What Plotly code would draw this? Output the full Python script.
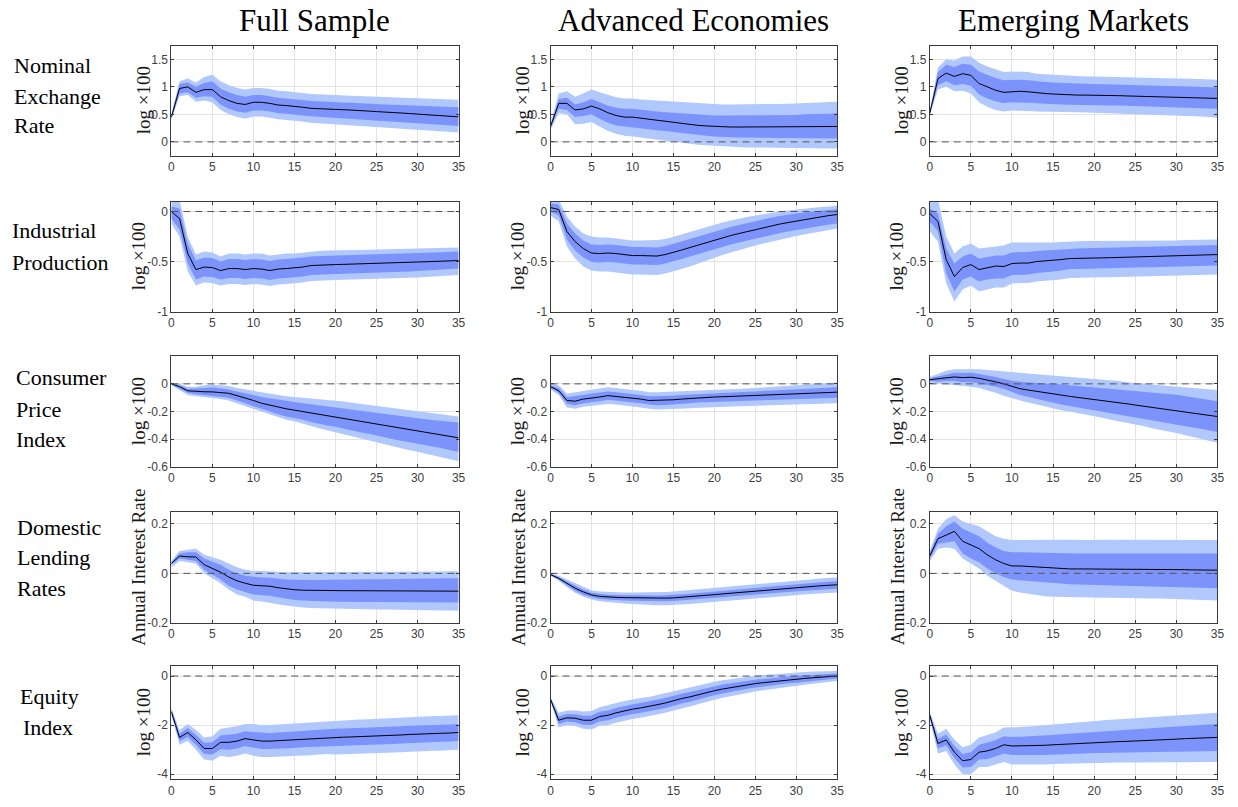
import plotly.graph_objects as go

W, H = 1238, 807
horizon = list(range(36))
x_ticks = [0, 5, 10, 15, 20, 25, 30, 35]

col_titles = ["Full Sample", "Advanced Economies", "Emerging Markets"]
row_label_lines = [["Nominal", "Exchange", "Rate"],
                   ["Industrial", "Production"],
                   ["Consumer", "Price", "Index"],
                   ["Domestic", "Lending", "Rates"],
                   ["Equity", "Index"]]
y_titles = ["log \u00d7100", "log \u00d7100", "log \u00d7100", "Annual Interest Rate", "log \u00d7100"]
y_ranges = [[-0.25, 1.75], [-1.0, 0.1], [-0.6, 0.2], [-0.2, 0.25], [-4.2, 0.4]]
y_tickvals = [[0, 0.5, 1, 1.5], [-1, -0.5, 0], [-0.6, -0.4, -0.2, 0], [-0.2, 0, 0.2], [-4, -2, 0]]
y_ticktext = [["0", "0.5", "1", "1.5"], ["-1", "-0.5", "0"], ["-0.6", "-0.4", "-0.2", "0"],
              ["-0.2", "0", "0.2"], ["-4", "-2", "0"]]

# ---------------- Nominal exchange rate ----------------
er_fs_med = [0.45,0.97,1.00,0.90,0.95,0.95,0.82,0.75,0.70,0.68,0.72,0.72,0.70,0.67,0.66,0.65,0.63,0.61,0.60,0.595,0.59,0.585,0.58,0.57,0.56,0.55,0.545,0.535,0.525,0.515,0.505,0.495,0.485,0.475,0.465,0.455]
er_fs_hi90 = [0.50,1.10,1.15,1.08,1.18,1.22,1.10,1.03,0.98,0.95,0.98,0.98,0.96,0.93,0.92,0.91,0.89,0.87,0.86,0.855,0.85,0.845,0.84,0.835,0.83,0.825,0.82,0.815,0.81,0.80,0.795,0.79,0.785,0.78,0.775,0.765]
er_fs_hi68 = [0.48,1.05,1.08,1.00,1.07,1.10,0.97,0.90,0.85,0.82,0.85,0.85,0.83,0.80,0.79,0.78,0.76,0.745,0.735,0.73,0.72,0.715,0.71,0.70,0.695,0.69,0.68,0.675,0.67,0.66,0.655,0.65,0.645,0.64,0.635,0.63]
er_fs_lo68 = [0.42,0.88,0.90,0.80,0.83,0.82,0.68,0.60,0.55,0.53,0.57,0.57,0.55,0.52,0.51,0.50,0.48,0.465,0.455,0.45,0.44,0.43,0.42,0.41,0.40,0.39,0.38,0.37,0.36,0.35,0.34,0.33,0.32,0.31,0.30,0.29]
er_fs_lo90 = [0.40,0.83,0.85,0.73,0.75,0.72,0.58,0.50,0.45,0.42,0.46,0.46,0.44,0.41,0.40,0.39,0.37,0.35,0.34,0.335,0.33,0.32,0.31,0.30,0.29,0.28,0.27,0.26,0.25,0.24,0.23,0.22,0.21,0.20,0.19,0.17]

er_ae_med = [0.28,0.70,0.70,0.58,0.60,0.65,0.60,0.53,0.48,0.45,0.45,0.43,0.41,0.39,0.37,0.36,0.34,0.32,0.30,0.29,0.28,0.275,0.27,0.27,0.27,0.27,0.27,0.27,0.27,0.275,0.275,0.275,0.28,0.28,0.28,0.28]
er_ae_hi90 = [0.33,0.88,0.92,0.82,0.88,0.95,0.90,0.85,0.81,0.79,0.79,0.77,0.76,0.75,0.74,0.73,0.72,0.71,0.70,0.69,0.68,0.68,0.68,0.68,0.68,0.68,0.685,0.69,0.69,0.695,0.70,0.705,0.71,0.715,0.72,0.73]
er_ae_hi68 = [0.30,0.78,0.80,0.68,0.72,0.78,0.72,0.66,0.62,0.60,0.60,0.58,0.56,0.55,0.54,0.53,0.52,0.50,0.49,0.485,0.48,0.48,0.48,0.48,0.48,0.48,0.485,0.485,0.49,0.49,0.49,0.50,0.50,0.51,0.51,0.52]
er_ae_lo68 = [0.25,0.60,0.58,0.45,0.47,0.50,0.42,0.35,0.30,0.28,0.27,0.25,0.23,0.21,0.20,0.18,0.16,0.14,0.12,0.11,0.10,0.09,0.085,0.08,0.08,0.075,0.075,0.07,0.07,0.07,0.07,0.07,0.065,0.065,0.06,0.06]
er_ae_lo90 = [0.22,0.52,0.50,0.32,0.33,0.36,0.28,0.20,0.15,0.11,0.10,0.08,0.06,0.04,0.02,0.01,-0.01,-0.03,-0.05,-0.06,-0.07,-0.08,-0.09,-0.095,-0.10,-0.10,-0.105,-0.11,-0.11,-0.11,-0.11,-0.115,-0.115,-0.12,-0.12,-0.12]

er_em_med = [0.52,1.15,1.25,1.19,1.24,1.21,1.06,1.00,0.94,0.90,0.91,0.92,0.91,0.89,0.88,0.87,0.86,0.855,0.85,0.85,0.85,0.845,0.84,0.84,0.835,0.83,0.83,0.825,0.82,0.815,0.81,0.81,0.805,0.80,0.795,0.79]
er_em_hi90 = [0.56,1.35,1.50,1.48,1.55,1.55,1.44,1.37,1.32,1.27,1.28,1.28,1.27,1.24,1.23,1.22,1.21,1.20,1.20,1.19,1.19,1.185,1.18,1.18,1.175,1.17,1.17,1.165,1.16,1.155,1.15,1.15,1.145,1.14,1.135,1.13]
er_em_hi68 = [0.54,1.27,1.40,1.36,1.42,1.40,1.28,1.22,1.16,1.12,1.13,1.13,1.12,1.10,1.09,1.08,1.07,1.065,1.06,1.055,1.05,1.045,1.04,1.04,1.035,1.03,1.03,1.025,1.02,1.015,1.01,1.01,1.005,1.00,0.995,0.99]
er_em_lo68 = [0.50,1.03,1.10,1.03,1.05,1.02,0.86,0.79,0.74,0.70,0.72,0.72,0.71,0.70,0.69,0.68,0.68,0.675,0.67,0.67,0.67,0.665,0.66,0.66,0.655,0.65,0.65,0.645,0.64,0.635,0.63,0.625,0.62,0.615,0.61,0.60]
er_em_lo90 = [0.48,0.95,1.00,0.92,0.93,0.88,0.72,0.64,0.58,0.55,0.57,0.57,0.56,0.55,0.55,0.55,0.545,0.54,0.54,0.535,0.53,0.525,0.52,0.52,0.515,0.51,0.505,0.50,0.495,0.49,0.48,0.475,0.47,0.46,0.45,0.44]

# ---------------- Industrial production ----------------
ip_fs_med = [0.0,-0.07,-0.42,-0.58,-0.555,-0.56,-0.59,-0.57,-0.57,-0.58,-0.57,-0.575,-0.59,-0.575,-0.57,-0.565,-0.555,-0.54,-0.535,-0.53,-0.53,-0.528,-0.526,-0.524,-0.522,-0.52,-0.517,-0.514,-0.511,-0.508,-0.505,-0.502,-0.499,-0.496,-0.493,-0.49]
ip_fs_hi90 = [0.12,0.12,-0.25,-0.43,-0.40,-0.41,-0.45,-0.42,-0.42,-0.43,-0.42,-0.42,-0.44,-0.43,-0.42,-0.42,-0.41,-0.40,-0.395,-0.39,-0.39,-0.388,-0.386,-0.384,-0.382,-0.38,-0.378,-0.376,-0.374,-0.372,-0.37,-0.368,-0.366,-0.364,-0.362,-0.36]
ip_fs_hi68 = [0.05,0.03,-0.32,-0.49,-0.46,-0.465,-0.50,-0.475,-0.475,-0.485,-0.475,-0.48,-0.495,-0.48,-0.475,-0.47,-0.46,-0.45,-0.445,-0.44,-0.44,-0.438,-0.436,-0.434,-0.432,-0.43,-0.427,-0.424,-0.421,-0.418,-0.415,-0.412,-0.409,-0.406,-0.403,-0.40]
ip_fs_lo68 = [-0.07,-0.18,-0.52,-0.68,-0.65,-0.655,-0.68,-0.665,-0.665,-0.675,-0.665,-0.67,-0.685,-0.67,-0.665,-0.66,-0.65,-0.635,-0.63,-0.625,-0.625,-0.623,-0.621,-0.619,-0.617,-0.615,-0.612,-0.609,-0.606,-0.60,-0.595,-0.59,-0.585,-0.58,-0.575,-0.57]
ip_fs_lo90 = [-0.12,-0.25,-0.60,-0.74,-0.71,-0.715,-0.74,-0.725,-0.725,-0.735,-0.725,-0.73,-0.745,-0.73,-0.725,-0.72,-0.71,-0.695,-0.69,-0.685,-0.685,-0.683,-0.681,-0.679,-0.677,-0.675,-0.672,-0.669,-0.666,-0.663,-0.66,-0.655,-0.65,-0.645,-0.64,-0.635]

ip_ae_med = [0.04,0.02,-0.20,-0.30,-0.37,-0.415,-0.42,-0.415,-0.42,-0.43,-0.44,-0.44,-0.445,-0.445,-0.43,-0.41,-0.385,-0.36,-0.335,-0.31,-0.285,-0.26,-0.24,-0.22,-0.20,-0.18,-0.16,-0.14,-0.125,-0.11,-0.095,-0.08,-0.07,-0.055,-0.04,-0.03]
ip_ae_hi90 = [0.12,0.12,-0.05,-0.15,-0.22,-0.25,-0.26,-0.26,-0.27,-0.28,-0.29,-0.29,-0.29,-0.285,-0.275,-0.255,-0.23,-0.205,-0.18,-0.155,-0.13,-0.11,-0.09,-0.07,-0.055,-0.04,-0.025,-0.01,0.0,0.01,0.02,0.03,0.04,0.045,0.05,0.06]
ip_ae_hi68 = [0.08,0.07,-0.12,-0.22,-0.29,-0.33,-0.335,-0.33,-0.335,-0.345,-0.355,-0.355,-0.36,-0.36,-0.345,-0.325,-0.30,-0.275,-0.25,-0.225,-0.20,-0.175,-0.155,-0.135,-0.115,-0.095,-0.075,-0.06,-0.045,-0.03,-0.02,-0.01,0.0,0.01,0.02,0.025]
ip_ae_lo68 = [0.0,-0.04,-0.28,-0.39,-0.46,-0.505,-0.51,-0.505,-0.51,-0.52,-0.53,-0.53,-0.535,-0.535,-0.52,-0.50,-0.475,-0.45,-0.425,-0.40,-0.375,-0.35,-0.33,-0.31,-0.29,-0.27,-0.25,-0.23,-0.215,-0.20,-0.185,-0.17,-0.16,-0.145,-0.13,-0.12]
ip_ae_lo90 = [-0.04,-0.10,-0.35,-0.47,-0.55,-0.59,-0.60,-0.60,-0.61,-0.62,-0.63,-0.63,-0.635,-0.635,-0.62,-0.60,-0.575,-0.55,-0.52,-0.49,-0.46,-0.435,-0.41,-0.385,-0.36,-0.34,-0.32,-0.30,-0.28,-0.26,-0.245,-0.23,-0.215,-0.20,-0.185,-0.17]

ip_em_med = [-0.02,-0.10,-0.48,-0.65,-0.56,-0.53,-0.58,-0.56,-0.545,-0.55,-0.52,-0.515,-0.515,-0.50,-0.495,-0.49,-0.48,-0.47,-0.47,-0.467,-0.465,-0.463,-0.461,-0.459,-0.457,-0.455,-0.453,-0.451,-0.449,-0.447,-0.445,-0.442,-0.439,-0.436,-0.433,-0.43]
ip_em_hi90 = [0.12,0.12,-0.25,-0.42,-0.35,-0.32,-0.37,-0.36,-0.35,-0.34,-0.31,-0.31,-0.31,-0.315,-0.315,-0.31,-0.305,-0.30,-0.295,-0.295,-0.295,-0.295,-0.295,-0.295,-0.29,-0.29,-0.29,-0.29,-0.29,-0.29,-0.29,-0.285,-0.285,-0.285,-0.28,-0.28]
ip_em_hi68 = [0.03,-0.02,-0.37,-0.52,-0.45,-0.42,-0.47,-0.455,-0.44,-0.44,-0.41,-0.405,-0.405,-0.395,-0.39,-0.385,-0.38,-0.37,-0.37,-0.368,-0.366,-0.364,-0.362,-0.36,-0.358,-0.356,-0.354,-0.352,-0.35,-0.348,-0.346,-0.344,-0.342,-0.34,-0.338,-0.335]
ip_em_lo68 = [-0.10,-0.20,-0.62,-0.80,-0.68,-0.65,-0.70,-0.68,-0.67,-0.67,-0.635,-0.63,-0.63,-0.615,-0.61,-0.60,-0.59,-0.575,-0.575,-0.572,-0.57,-0.568,-0.566,-0.564,-0.562,-0.56,-0.558,-0.556,-0.554,-0.552,-0.55,-0.548,-0.546,-0.544,-0.542,-0.54]
ip_em_lo90 = [-0.20,-0.30,-0.72,-0.90,-0.78,-0.74,-0.80,-0.78,-0.76,-0.76,-0.72,-0.715,-0.715,-0.70,-0.695,-0.69,-0.68,-0.665,-0.665,-0.662,-0.66,-0.658,-0.656,-0.654,-0.652,-0.65,-0.648,-0.646,-0.644,-0.642,-0.64,-0.638,-0.636,-0.634,-0.632,-0.63]

# ---------------- Consumer price index ----------------
cpi_fs_med = [0.0,-0.02,-0.05,-0.055,-0.057,-0.058,-0.062,-0.068,-0.085,-0.10,-0.12,-0.14,-0.155,-0.17,-0.18,-0.19,-0.20,-0.21,-0.22,-0.23,-0.24,-0.25,-0.26,-0.27,-0.28,-0.29,-0.30,-0.31,-0.32,-0.33,-0.34,-0.35,-0.36,-0.37,-0.38,-0.39]
cpi_fs_hi90 = [0.01,0.0,-0.02,-0.02,-0.01,-0.005,-0.01,-0.015,-0.03,-0.04,-0.055,-0.065,-0.075,-0.085,-0.09,-0.095,-0.10,-0.105,-0.11,-0.115,-0.12,-0.128,-0.136,-0.144,-0.152,-0.16,-0.168,-0.176,-0.184,-0.192,-0.20,-0.207,-0.214,-0.221,-0.228,-0.235]
cpi_fs_hi68 = [0.005,-0.01,-0.035,-0.035,-0.03,-0.025,-0.03,-0.04,-0.055,-0.065,-0.08,-0.095,-0.105,-0.115,-0.125,-0.13,-0.14,-0.148,-0.156,-0.164,-0.17,-0.178,-0.186,-0.194,-0.202,-0.21,-0.218,-0.226,-0.234,-0.242,-0.25,-0.256,-0.262,-0.268,-0.274,-0.28]
cpi_fs_lo68 = [-0.005,-0.035,-0.065,-0.075,-0.08,-0.085,-0.095,-0.10,-0.12,-0.14,-0.16,-0.185,-0.205,-0.22,-0.235,-0.245,-0.26,-0.275,-0.29,-0.30,-0.31,-0.325,-0.34,-0.35,-0.36,-0.37,-0.385,-0.40,-0.41,-0.42,-0.43,-0.445,-0.455,-0.465,-0.48,-0.49]
cpi_fs_lo90 = [-0.01,-0.045,-0.08,-0.09,-0.095,-0.10,-0.11,-0.12,-0.14,-0.16,-0.18,-0.205,-0.225,-0.245,-0.26,-0.27,-0.29,-0.305,-0.32,-0.335,-0.35,-0.365,-0.38,-0.395,-0.41,-0.42,-0.435,-0.45,-0.465,-0.48,-0.49,-0.505,-0.52,-0.535,-0.545,-0.56]

cpi_ae_med = [-0.02,-0.05,-0.12,-0.125,-0.11,-0.105,-0.095,-0.085,-0.09,-0.095,-0.10,-0.11,-0.12,-0.12,-0.118,-0.115,-0.11,-0.105,-0.10,-0.097,-0.095,-0.093,-0.091,-0.089,-0.087,-0.085,-0.082,-0.079,-0.076,-0.073,-0.07,-0.068,-0.066,-0.064,-0.062,-0.06]
cpi_ae_hi90 = [0.0,-0.01,-0.07,-0.06,-0.05,-0.04,-0.035,-0.025,-0.03,-0.04,-0.045,-0.05,-0.06,-0.06,-0.058,-0.055,-0.052,-0.05,-0.048,-0.046,-0.045,-0.042,-0.039,-0.036,-0.033,-0.03,-0.026,-0.022,-0.018,-0.014,-0.01,-0.006,-0.002,0.002,0.006,0.01]
cpi_ae_hi68 = [-0.01,-0.03,-0.095,-0.09,-0.08,-0.07,-0.065,-0.055,-0.06,-0.065,-0.07,-0.08,-0.09,-0.09,-0.088,-0.085,-0.08,-0.077,-0.074,-0.071,-0.07,-0.067,-0.064,-0.061,-0.058,-0.055,-0.052,-0.049,-0.046,-0.043,-0.04,-0.037,-0.034,-0.031,-0.028,-0.025]
cpi_ae_lo68 = [-0.03,-0.065,-0.145,-0.155,-0.14,-0.135,-0.125,-0.115,-0.12,-0.125,-0.13,-0.14,-0.15,-0.155,-0.153,-0.15,-0.145,-0.14,-0.135,-0.132,-0.13,-0.128,-0.126,-0.124,-0.122,-0.12,-0.118,-0.116,-0.114,-0.112,-0.11,-0.108,-0.106,-0.104,-0.102,-0.10]
cpi_ae_lo90 = [-0.04,-0.08,-0.17,-0.18,-0.165,-0.16,-0.15,-0.145,-0.15,-0.155,-0.16,-0.17,-0.18,-0.185,-0.183,-0.18,-0.177,-0.174,-0.171,-0.17,-0.168,-0.166,-0.164,-0.162,-0.16,-0.158,-0.156,-0.154,-0.152,-0.15,-0.148,-0.146,-0.144,-0.142,-0.14,-0.14]

cpi_em_med = [0.03,0.035,0.045,0.05,0.045,0.048,0.04,0.03,0.015,0.0,-0.02,-0.035,-0.045,-0.055,-0.065,-0.075,-0.083,-0.09,-0.098,-0.105,-0.113,-0.12,-0.128,-0.136,-0.144,-0.153,-0.161,-0.169,-0.177,-0.185,-0.193,-0.202,-0.211,-0.22,-0.228,-0.236]
cpi_em_hi90 = [0.05,0.075,0.095,0.105,0.105,0.11,0.105,0.10,0.095,0.09,0.085,0.08,0.076,0.072,0.068,0.064,0.058,0.052,0.046,0.04,0.035,0.03,0.025,0.02,0.012,0.005,0.0,-0.005,-0.01,-0.015,-0.02,-0.025,-0.03,-0.035,-0.04,-0.045]
cpi_em_hi68 = [0.04,0.055,0.07,0.08,0.078,0.08,0.072,0.062,0.05,0.036,0.022,0.016,0.01,0.005,0.002,0.0,-0.005,-0.01,-0.015,-0.02,-0.025,-0.03,-0.035,-0.04,-0.045,-0.05,-0.055,-0.06,-0.065,-0.07,-0.078,-0.088,-0.098,-0.108,-0.117,-0.125]
cpi_em_lo68 = [0.02,0.015,0.02,0.02,0.012,0.012,0.005,-0.005,-0.02,-0.036,-0.06,-0.08,-0.095,-0.11,-0.125,-0.14,-0.15,-0.16,-0.17,-0.18,-0.195,-0.205,-0.215,-0.225,-0.235,-0.245,-0.255,-0.265,-0.275,-0.285,-0.295,-0.305,-0.315,-0.325,-0.337,-0.348]
cpi_em_lo90 = [0.01,0.005,0.0,-0.005,-0.015,-0.02,-0.03,-0.045,-0.065,-0.085,-0.105,-0.12,-0.135,-0.15,-0.165,-0.18,-0.19,-0.20,-0.21,-0.22,-0.235,-0.245,-0.26,-0.27,-0.285,-0.295,-0.305,-0.32,-0.33,-0.345,-0.355,-0.37,-0.385,-0.395,-0.41,-0.425]

# ---------------- Domestic lending rates ----------------
dlr_fs_med = [0.04,0.07,0.067,0.066,0.035,0.02,0.005,-0.015,-0.03,-0.04,-0.048,-0.05,-0.052,-0.058,-0.063,-0.066,-0.068,-0.069,-0.07,-0.07,-0.07,-0.07,-0.07,-0.07,-0.07,-0.071,-0.071,-0.071,-0.071,-0.071,-0.071,-0.072,-0.072,-0.072,-0.072,-0.072]
dlr_fs_hi90 = [0.05,0.09,0.095,0.10,0.075,0.065,0.055,0.04,0.025,0.015,0.01,0.01,0.01,0.007,0.005,0.005,0.005,0.005,0.005,0.005,0.005,0.005,0.005,0.005,0.005,0.006,0.006,0.006,0.007,0.007,0.007,0.008,0.008,0.008,0.009,0.009]
dlr_fs_hi68 = [0.045,0.08,0.085,0.085,0.06,0.048,0.035,0.015,0.0,-0.01,-0.015,-0.017,-0.018,-0.022,-0.025,-0.026,-0.027,-0.027,-0.027,-0.026,-0.026,-0.025,-0.025,-0.025,-0.024,-0.024,-0.023,-0.023,-0.023,-0.022,-0.022,-0.021,-0.021,-0.02,-0.02,-0.02]
dlr_fs_lo68 = [0.035,0.06,0.055,0.05,0.015,-0.005,-0.025,-0.05,-0.065,-0.075,-0.085,-0.088,-0.09,-0.097,-0.103,-0.108,-0.11,-0.112,-0.113,-0.114,-0.115,-0.115,-0.115,-0.115,-0.116,-0.116,-0.116,-0.117,-0.117,-0.117,-0.117,-0.118,-0.118,-0.118,-0.118,-0.118]
dlr_fs_lo90 = [0.025,0.05,0.045,0.04,0.0,-0.02,-0.04,-0.065,-0.085,-0.095,-0.11,-0.114,-0.118,-0.125,-0.13,-0.135,-0.138,-0.14,-0.141,-0.142,-0.143,-0.144,-0.144,-0.145,-0.145,-0.146,-0.146,-0.147,-0.147,-0.148,-0.148,-0.149,-0.149,-0.15,-0.15,-0.151]

dlr_ae_med = [-0.005,-0.02,-0.04,-0.06,-0.075,-0.087,-0.093,-0.096,-0.097,-0.098,-0.099,-0.10,-0.10,-0.10,-0.10,-0.099,-0.097,-0.095,-0.092,-0.089,-0.086,-0.083,-0.08,-0.077,-0.074,-0.071,-0.068,-0.065,-0.062,-0.059,-0.056,-0.054,-0.052,-0.05,-0.048,-0.046]
dlr_ae_hi90 = [0.0,-0.01,-0.025,-0.04,-0.055,-0.068,-0.073,-0.075,-0.076,-0.077,-0.077,-0.077,-0.077,-0.076,-0.075,-0.073,-0.07,-0.067,-0.064,-0.06,-0.057,-0.054,-0.051,-0.048,-0.045,-0.042,-0.039,-0.036,-0.033,-0.03,-0.027,-0.025,-0.023,-0.021,-0.019,-0.017]
dlr_ae_hi68 = [-0.002,-0.015,-0.033,-0.05,-0.065,-0.078,-0.083,-0.086,-0.087,-0.088,-0.088,-0.089,-0.089,-0.089,-0.088,-0.087,-0.084,-0.082,-0.079,-0.076,-0.072,-0.069,-0.066,-0.063,-0.06,-0.057,-0.054,-0.051,-0.048,-0.045,-0.042,-0.04,-0.038,-0.036,-0.034,-0.032]
dlr_ae_lo68 = [-0.008,-0.026,-0.048,-0.07,-0.086,-0.097,-0.104,-0.107,-0.108,-0.11,-0.111,-0.112,-0.113,-0.113,-0.113,-0.112,-0.11,-0.108,-0.106,-0.103,-0.1,-0.097,-0.094,-0.091,-0.089,-0.086,-0.083,-0.08,-0.077,-0.075,-0.072,-0.07,-0.068,-0.066,-0.064,-0.062]
dlr_ae_lo90 = [-0.01,-0.03,-0.055,-0.078,-0.095,-0.106,-0.113,-0.117,-0.12,-0.122,-0.124,-0.126,-0.128,-0.129,-0.129,-0.128,-0.126,-0.124,-0.121,-0.118,-0.115,-0.112,-0.109,-0.106,-0.103,-0.1,-0.097,-0.094,-0.092,-0.09,-0.087,-0.085,-0.083,-0.081,-0.079,-0.077]

dlr_em_med = [0.07,0.14,0.155,0.17,0.13,0.115,0.10,0.075,0.055,0.04,0.03,0.03,0.028,0.025,0.022,0.02,0.019,0.018,0.018,0.018,0.018,0.018,0.018,0.018,0.017,0.017,0.017,0.016,0.016,0.016,0.015,0.015,0.014,0.014,0.013,0.013]
dlr_em_hi90 = [0.09,0.18,0.22,0.235,0.21,0.20,0.19,0.17,0.15,0.14,0.135,0.135,0.136,0.137,0.137,0.136,0.136,0.135,0.135,0.135,0.135,0.136,0.136,0.136,0.136,0.135,0.135,0.135,0.135,0.135,0.135,0.135,0.135,0.135,0.135,0.135]
dlr_em_hi68 = [0.08,0.16,0.19,0.21,0.18,0.165,0.15,0.125,0.105,0.09,0.085,0.085,0.084,0.083,0.082,0.081,0.08,0.08,0.08,0.08,0.08,0.08,0.08,0.08,0.08,0.08,0.08,0.08,0.08,0.08,0.08,0.08,0.08,0.08,0.08,0.08]
dlr_em_lo68 = [0.06,0.12,0.125,0.13,0.08,0.06,0.045,0.02,0.0,-0.015,-0.025,-0.028,-0.03,-0.033,-0.036,-0.04,-0.042,-0.044,-0.045,-0.046,-0.047,-0.048,-0.049,-0.05,-0.051,-0.052,-0.053,-0.054,-0.055,-0.056,-0.057,-0.058,-0.058,-0.059,-0.06,-0.06]
dlr_em_lo90 = [0.05,0.10,0.105,0.10,0.06,0.04,0.02,-0.01,-0.03,-0.05,-0.07,-0.077,-0.083,-0.088,-0.092,-0.095,-0.096,-0.097,-0.097,-0.098,-0.098,-0.099,-0.099,-0.1,-0.1,-0.101,-0.101,-0.102,-0.102,-0.103,-0.104,-0.105,-0.106,-0.107,-0.108,-0.11]

# ---------------- Equity index ----------------
eq_fs_med = [-1.45,-2.5,-2.3,-2.6,-2.95,-2.95,-2.7,-2.7,-2.65,-2.55,-2.6,-2.65,-2.65,-2.63,-2.62,-2.6,-2.57,-2.55,-2.52,-2.5,-2.5,-2.49,-2.48,-2.47,-2.46,-2.45,-2.44,-2.42,-2.4,-2.38,-2.36,-2.35,-2.34,-2.33,-2.32,-2.3]
eq_fs_hi90 = [-1.3,-2.2,-1.95,-2.2,-2.5,-2.45,-2.15,-2.1,-2.05,-1.95,-1.95,-2.0,-2.0,-1.97,-1.95,-1.93,-1.9,-1.87,-1.84,-1.82,-1.8,-1.79,-1.78,-1.77,-1.76,-1.75,-1.74,-1.72,-1.70,-1.68,-1.66,-1.65,-1.64,-1.63,-1.62,-1.6]
eq_fs_hi68 = [-1.35,-2.35,-2.12,-2.4,-2.72,-2.7,-2.42,-2.4,-2.35,-2.25,-2.28,-2.33,-2.33,-2.3,-2.29,-2.27,-2.24,-2.21,-2.18,-2.16,-2.15,-2.14,-2.13,-2.12,-2.11,-2.1,-2.09,-2.07,-2.05,-2.03,-2.01,-2.0,-1.99,-1.98,-1.97,-1.95]
eq_fs_lo68 = [-1.55,-2.65,-2.48,-2.8,-3.18,-3.2,-2.98,-3.0,-2.95,-2.85,-2.92,-2.97,-2.97,-2.96,-2.95,-2.93,-2.9,-2.89,-2.86,-2.84,-2.85,-2.84,-2.83,-2.82,-2.81,-2.8,-2.79,-2.77,-2.75,-2.73,-2.71,-2.7,-2.69,-2.68,-2.67,-2.65]
eq_fs_lo90 = [-1.6,-2.8,-2.65,-3.0,-3.4,-3.45,-3.25,-3.3,-3.25,-3.15,-3.25,-3.3,-3.3,-3.29,-3.28,-3.27,-3.24,-3.23,-3.2,-3.18,-3.2,-3.19,-3.18,-3.17,-3.16,-3.15,-3.14,-3.12,-3.1,-3.08,-3.06,-3.05,-3.04,-3.03,-3.02,-3.0]

eq_ae_med = [-0.95,-1.8,-1.7,-1.72,-1.8,-1.8,-1.65,-1.6,-1.5,-1.42,-1.35,-1.3,-1.25,-1.17,-1.1,-1.0,-0.92,-0.85,-0.76,-0.68,-0.6,-0.53,-0.47,-0.41,-0.36,-0.31,-0.27,-0.23,-0.19,-0.16,-0.13,-0.1,-0.07,-0.05,-0.02,0.0]
eq_ae_hi90 = [-0.85,-1.5,-1.4,-1.4,-1.45,-1.42,-1.27,-1.2,-1.1,-1.02,-0.95,-0.9,-0.85,-0.77,-0.7,-0.6,-0.53,-0.46,-0.38,-0.3,-0.23,-0.17,-0.12,-0.07,-0.03,0.01,0.04,0.07,0.1,0.12,0.14,0.16,0.18,0.19,0.2,0.2]
eq_ae_hi68 = [-0.9,-1.65,-1.55,-1.56,-1.62,-1.61,-1.46,-1.4,-1.3,-1.22,-1.15,-1.1,-1.05,-0.97,-0.9,-0.8,-0.72,-0.65,-0.57,-0.49,-0.42,-0.35,-0.3,-0.24,-0.2,-0.15,-0.12,-0.08,-0.05,-0.02,0.01,0.03,0.05,0.07,0.09,0.1]
eq_ae_lo68 = [-1.0,-1.95,-1.85,-1.88,-1.98,-1.99,-1.84,-1.8,-1.7,-1.62,-1.55,-1.5,-1.45,-1.37,-1.3,-1.2,-1.12,-1.05,-0.95,-0.87,-0.78,-0.71,-0.64,-0.58,-0.52,-0.47,-0.42,-0.38,-0.33,-0.3,-0.27,-0.23,-0.19,-0.17,-0.13,-0.1]
eq_ae_lo90 = [-1.05,-2.1,-2.0,-2.04,-2.15,-2.18,-2.03,-2.0,-1.9,-1.82,-1.75,-1.7,-1.65,-1.57,-1.5,-1.4,-1.32,-1.24,-1.14,-1.06,-0.97,-0.89,-0.82,-0.75,-0.69,-0.63,-0.58,-0.53,-0.48,-0.44,-0.4,-0.36,-0.32,-0.29,-0.25,-0.2]

eq_em_med = [-1.6,-2.75,-2.6,-3.1,-3.45,-3.4,-3.1,-3.05,-2.95,-2.8,-2.85,-2.85,-2.85,-2.83,-2.82,-2.8,-2.78,-2.76,-2.74,-2.72,-2.7,-2.69,-2.68,-2.67,-2.66,-2.65,-2.63,-2.61,-2.6,-2.58,-2.57,-2.55,-2.54,-2.52,-2.51,-2.5]
eq_em_hi90 = [-1.45,-2.35,-2.15,-2.6,-2.9,-2.8,-2.5,-2.4,-2.3,-2.1,-2.1,-2.08,-2.06,-2.03,-2.0,-1.97,-1.94,-1.91,-1.88,-1.85,-1.82,-1.8,-1.78,-1.76,-1.74,-1.72,-1.7,-1.68,-1.66,-1.64,-1.62,-1.6,-1.58,-1.56,-1.54,-1.5]
eq_em_hi68 = [-1.52,-2.55,-2.38,-2.85,-3.18,-3.1,-2.8,-2.72,-2.62,-2.45,-2.48,-2.47,-2.46,-2.44,-2.42,-2.4,-2.37,-2.35,-2.32,-2.3,-2.27,-2.25,-2.23,-2.21,-2.19,-2.17,-2.15,-2.12,-2.1,-2.08,-2.06,-2.04,-2.02,-2.0,-1.98,-1.95]
eq_em_lo68 = [-1.68,-2.95,-2.82,-3.35,-3.72,-3.7,-3.4,-3.38,-3.28,-3.15,-3.22,-3.23,-3.24,-3.22,-3.22,-3.2,-3.19,-3.17,-3.16,-3.14,-3.13,-3.13,-3.12,-3.12,-3.11,-3.11,-3.1,-3.09,-3.09,-3.08,-3.08,-3.07,-3.07,-3.06,-3.06,-3.05]
eq_em_lo90 = [-1.75,-3.15,-3.05,-3.6,-4.0,-4.0,-3.7,-3.7,-3.6,-3.5,-3.6,-3.6,-3.62,-3.6,-3.6,-3.58,-3.57,-3.56,-3.55,-3.54,-3.53,-3.53,-3.53,-3.52,-3.52,-3.52,-3.51,-3.51,-3.51,-3.5,-3.5,-3.5,-3.5,-3.5,-3.5,-3.5]

panels = [
    [(er_fs_lo90, er_fs_lo68, er_fs_med, er_fs_hi68, er_fs_hi90),
     (er_ae_lo90, er_ae_lo68, er_ae_med, er_ae_hi68, er_ae_hi90),
     (er_em_lo90, er_em_lo68, er_em_med, er_em_hi68, er_em_hi90)],
    [(ip_fs_lo90, ip_fs_lo68, ip_fs_med, ip_fs_hi68, ip_fs_hi90),
     (ip_ae_lo90, ip_ae_lo68, ip_ae_med, ip_ae_hi68, ip_ae_hi90),
     (ip_em_lo90, ip_em_lo68, ip_em_med, ip_em_hi68, ip_em_hi90)],
    [(cpi_fs_lo90, cpi_fs_lo68, cpi_fs_med, cpi_fs_hi68, cpi_fs_hi90),
     (cpi_ae_lo90, cpi_ae_lo68, cpi_ae_med, cpi_ae_hi68, cpi_ae_hi90),
     (cpi_em_lo90, cpi_em_lo68, cpi_em_med, cpi_em_hi68, cpi_em_hi90)],
    [(dlr_fs_lo90, dlr_fs_lo68, dlr_fs_med, dlr_fs_hi68, dlr_fs_hi90),
     (dlr_ae_lo90, dlr_ae_lo68, dlr_ae_med, dlr_ae_hi68, dlr_ae_hi90),
     (dlr_em_lo90, dlr_em_lo68, dlr_em_med, dlr_em_hi68, dlr_em_hi90)],
    [(eq_fs_lo90, eq_fs_lo68, eq_fs_med, eq_fs_hi68, eq_fs_hi90),
     (eq_ae_lo90, eq_ae_lo68, eq_ae_med, eq_ae_hi68, eq_ae_hi90),
     (eq_em_lo90, eq_em_lo68, eq_em_med, eq_em_hi68, eq_em_hi90)],
]

# ---------------- layout geometry (window pixels) ----------------
col_px = [(169.7, 459.3), (552.0, 841.0), (934.3, 1224.3)]
row_px = [(46.0, 157.0), (203.3, 314.3), (359.3, 471.0), (516.0, 628.3), (672.0, 786.0)]
ytitle_offset = [28, 33, 33, 33, 28]
row_label_x = [[9, 9, 9], [7, 7], [11, 11, 11], [12, 12, 12], [15, 18]]
row_label_y = [[66, 97, 127], [233, 265], [381, 413, 443], [532, 562, 594], [703, 734]]

LIGHT = "#b1c8fd"
DARK = "#7b93fb"
SERIF = "Liberation Serif, Times New Roman, serif"
SANS = "Liberation Sans, Arial, sans-serif"


def fx(p):
    return p / W


def fy(p):
    return 1 - p / H


fig = go.Figure()
layout = dict(width=W, height=H, margin=dict(l=0, r=0, t=0, b=0),
              paper_bgcolor="white", plot_bgcolor="white", showlegend=False)
annotations = []
shapes = []

for r in range(5):
    for c in range(3):
        n = r * 3 + c + 1
        xa = "x" if n == 1 else f"x{n}"
        ya = "y" if n == 1 else f"y{n}"
        lo90, lo68, med, hi68, hi90 = panels[r][c]
        common = dict(x=horizon, xaxis=xa, yaxis=ya, hoverinfo="skip", mode="lines")
        fig.add_trace(go.Scatter(y=lo90, line=dict(width=0), **common))
        fig.add_trace(go.Scatter(y=hi90, line=dict(width=0), fill="tonexty", fillcolor=LIGHT, **common))
        fig.add_trace(go.Scatter(y=lo68, line=dict(width=0), **common))
        fig.add_trace(go.Scatter(y=hi68, line=dict(width=0), fill="tonexty", fillcolor=DARK, **common))
        fig.add_trace(go.Scatter(y=med, line=dict(color="black", width=1), **common))

        l, rr = col_px[c]
        t, b = row_px[r]
        axcommon = dict(showline=True, mirror="ticks", linecolor="#3a3a3a", linewidth=1,
                        ticks="inside", ticklen=3, tickcolor="#3a3a3a",
                        showgrid=True, gridcolor="#e3e3e3", gridwidth=1, zeroline=False,
                        tickfont=dict(family=SANS, size=12, color="#404040"))
        layout["xaxis" if n == 1 else f"xaxis{n}"] = dict(
            domain=[fx(l), fx(rr)], anchor=ya, range=[0, 35],
            tickmode="array", tickvals=x_ticks, ticktext=[str(v) for v in x_ticks], **axcommon)
        layout["yaxis" if n == 1 else f"yaxis{n}"] = dict(
            domain=[fy(b), fy(t)], anchor=xa, range=y_ranges[r],
            tickmode="array", tickvals=y_tickvals[r], ticktext=y_ticktext[r], **axcommon)
        shapes.append(dict(type="line", xref=xa, yref=ya, x0=0, x1=35, y0=0, y1=0,
                           line=dict(color="#555555", width=1, dash="7px,5px"), layer="above"))
        annotations.append(dict(text=y_titles[r], xref="paper", yref="paper",
                                x=fx(l - ytitle_offset[r]), y=fy((t + b) / 2),
                                xanchor="center", yanchor="middle", textangle=-90, showarrow=False,
                                font=dict(family=SERIF, size=19, color="#1a1a1a")))

for c in range(3):
    l, rr = col_px[c]
    annotations.append(dict(text=col_titles[c], xref="paper", yref="paper",
                            x=fx((l + rr) / 2), y=fy(21), xanchor="center", yanchor="middle",
                            showarrow=False, font=dict(family=SERIF, size=31, color="black")))

for r in range(5):
    for i, line in enumerate(row_label_lines[r]):
        annotations.append(dict(text=line, xref="paper", yref="paper",
                                x=fx(row_label_x[r][i]), y=fy(row_label_y[r][i]),
                                xanchor="left", yanchor="middle", showarrow=False,
                                font=dict(family=SERIF, size=22, color="black")))

layout["annotations"] = annotations
layout["shapes"] = shapes
fig.update_layout(**layout)
fig.write_html("out.html", config={"displayModeBar": False},
               post_script="document.body.style.margin='0';document.body.style.overflow='hidden';")
